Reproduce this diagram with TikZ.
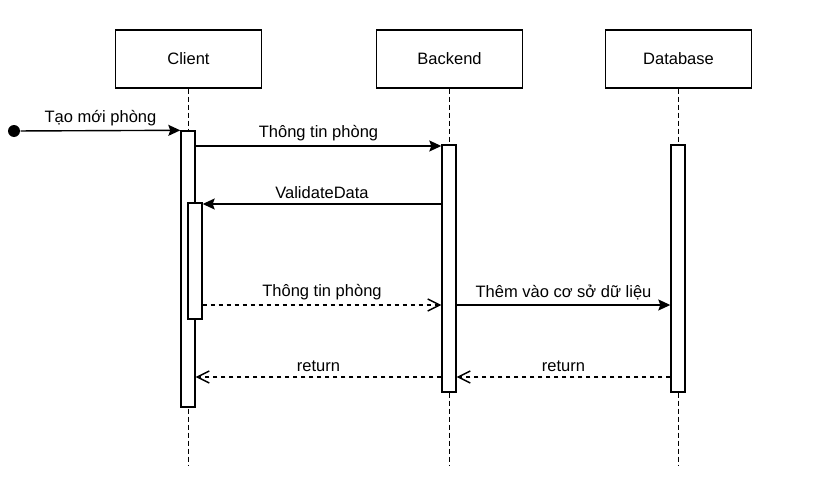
\documentclass[tikz,border=0pt]{standalone}
\usepackage{fontspec}
\setmainfont{Liberation Sans}
\usetikzlibrary{arrows.meta}
\begin{document}
\begin{tikzpicture}[x=1pt,y=-1pt,line width=1.4pt,
  every node/.style={font=\fontsize{16.5}{19}\selectfont},
  actor/.style={draw,minimum width=146pt,minimum height=58pt},
  bar/.style={draw,fill=white,minimum width=14pt,inner sep=0pt},
  lifeline/.style={dash pattern=on 5pt off 3pt},
  msg/.style={-{Stealth[length=12pt,width=11pt,inset=2pt]}},
  reply/.style={dash pattern=on 4pt off 4pt,-{Straight Barb[length=12pt,width=12pt]}},
  lbl/.style={above=1pt}]
  \useasboundingbox (0,0) rectangle (828,495);
  % participants
  \node[actor] (client) at (188.5,59) {Client};
  \node[actor] (backend) at (449.5,59) {Backend};
  \node[actor] (db) at (678.5,59) {Database};
  \coordinate (clientend) at (188.5,465);
  \coordinate (backendend) at (449.5,465);
  \coordinate (dbend) at (678.5,465);
  \draw[lifeline] (client.south) -- (clientend);
  \draw[lifeline] (backend.south) -- (backendend);
  \draw[lifeline] (db.south) -- (dbend);
  % activations
  \node[bar,minimum height=276pt] (cbar) at (188,269) {};
  \node[bar,minimum height=116pt] (cbar2) at (195,261) {};
  \node[bar,minimum height=247pt] (bbar) at (449,268.5) {};
  \node[bar,minimum height=247pt] (dbar) at (678,268.5) {};
  % messages
  \node[circle,fill,inner sep=0pt,minimum size=12pt] (start) at (14,131) {};
  \draw[msg] (start) -- node[lbl] {Tạo mới phòng} (cbar.north west);
  \coordinate (m2) at (0,146);
  \draw[msg] (cbar.east |- m2) -- node[lbl] {Thông tin phòng} (bbar.west |- m2);
  \coordinate (m3) at (0,204);
  \draw[msg] (bbar.west |- m3) -- node[lbl] {ValidateData} (cbar2.east |- m3);
  \coordinate (m4) at (0,305);
  \draw[reply] (cbar2.east |- m4) -- node[lbl] {Thông tin phòng} (bbar.west |- m4);
  \draw[msg] (bbar.east |- m4) -- node[lbl] {Thêm vào cơ sở dữ liệu} (dbar.west |- m4);
  \coordinate (m5) at (0,377);
  \draw[reply] (bbar.west |- m5) -- node[lbl] {return} (cbar.east |- m5);
  \draw[reply] (dbar.west |- m5) -- node[lbl] {return} (bbar.east |- m5);
\end{tikzpicture}
\end{document}
